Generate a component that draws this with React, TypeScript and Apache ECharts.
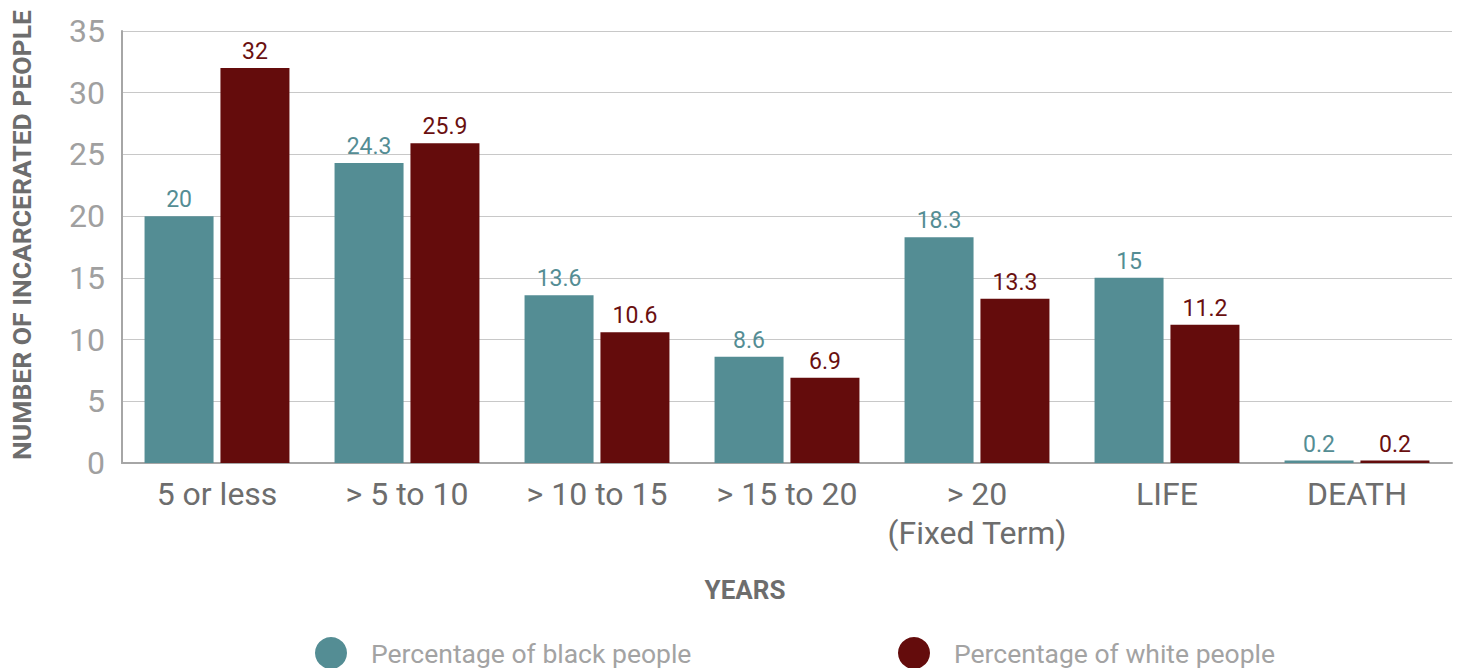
import React, { useEffect, useRef } from "react";
import * as echarts from "echarts";

const categories = ["5 or less", "> 5 to 10", "> 10 to 15", "> 15 to 20", "> 20\n(Fixed Term)", "LIFE", "DEATH"];
const blackValues = [20, 24.3, 13.6, 8.6, 18.3, 15, 0.2];
const whiteValues = [32, 25.9, 10.6, 6.9, 13.3, 11.2, 0.2];
const seriesNames = ["Percentage of black people", "Percentage of white people"];

const TEAL = "#548d94";
const RED = "#640c0c";
const FONT = "Roboto";

function legendAt(name: string, left: number) {
  return {
    data: [name],
    left,
    top: 632,
    icon: "circle",
    itemWidth: 32,
    itemHeight: 32,
    itemGap: 10,
    textStyle: { fontFamily: FONT, fontSize: 26.5, color: "#a3a3a3", padding: [2, 0, 0, 19] },
  };
}

export default function App() {
  const ref = useRef<HTMLDivElement>(null);
  useEffect(() => {
    if (!ref.current) return;
    const chart = echarts.init(ref.current, null, { renderer: "svg" });
    chart.setOption({
      animation: false,
      textStyle: { fontFamily: FONT },
      grid: { left: 120, right: 5, top: 31, bottom: 205 },
      legend: [legendAt(seriesNames[0], 310), legendAt(seriesNames[1], 893)],
      xAxis: {
        type: "category",
        data: categories,
        name: "YEARS",
        nameLocation: "middle",
        nameGap: 114,
        nameTextStyle: {
          fontFamily: FONT,
          fontSize: 26,
          fontWeight: "bold",
          color: "#6d6d6d",
          padding: [0, 84, 0, 0],
        },
        axisLine: { show: true, lineStyle: { color: "#a6a6a6", width: 2 } },
        axisTick: { show: false },
        axisLabel: {
          fontFamily: FONT,
          fontSize: 32,
          color: "#6d6d6d",
          margin: 11,
          lineHeight: 39,
          interval: 0,
        },
      },
      yAxis: {
        type: "value",
        min: 0,
        max: 35,
        interval: 5,
        name: "NUMBER OF INCARCERATED PEOPLE",
        nameLocation: "middle",
        nameGap: 87,
        nameTextStyle: {
          fontFamily: FONT,
          fontSize: 26.5,
          fontWeight: "bold",
          color: "#6d6d6d",
          padding: [0, 0, 0, 24],
        },
        axisLine: { show: true, lineStyle: { color: "#a6a6a6", width: 2 } },
        axisTick: { show: false },
        splitLine: { lineStyle: { color: "#c8c8c8", width: 1 } },
        axisLabel: { fontFamily: FONT, fontSize: 32, color: "#a0a0a0", margin: 17, padding: [6, 0, 0, 0] },
      },
      series: [
        {
          name: seriesNames[0],
          type: "bar",
          data: blackValues,
          barWidth: 69,
          barGap: "10%",
          itemStyle: { color: TEAL },
          label: { show: true, position: "top", distance: 5, fontFamily: FONT, fontSize: 23, color: TEAL },
        },
        {
          name: seriesNames[1],
          type: "bar",
          data: whiteValues,
          barWidth: 69,
          itemStyle: { color: RED },
          label: { show: true, position: "top", distance: 5, fontFamily: FONT, fontSize: 23, color: "#6a1010" },
        },
      ],
    });
    return () => chart.dispose();
  }, []);
  return (
    <div
      ref={ref}
      style={{ position: "absolute", left: 0, top: 0, width: 1457, height: 668 }}
    />
  );
}
